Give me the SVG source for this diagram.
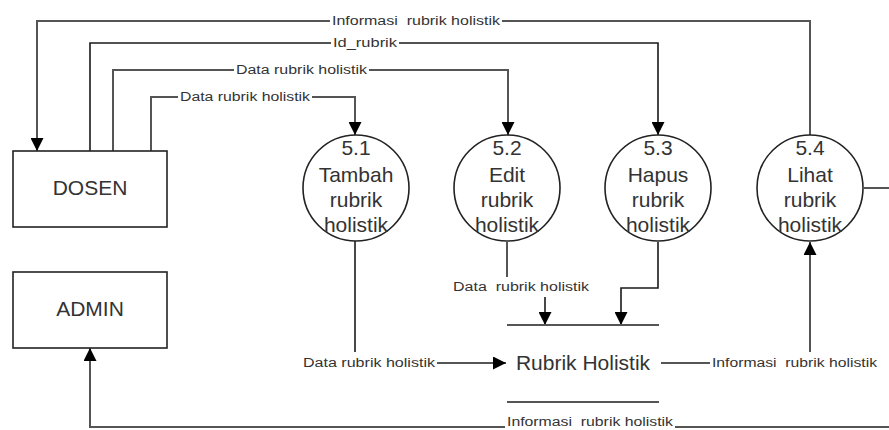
<svg xmlns="http://www.w3.org/2000/svg" width="889" height="430" viewBox="0 0 889 430">
  <style>
    .ent { fill: #fff; stroke: #222; stroke-width: 1.6; }
    .proc { fill: #fff; stroke: #222; stroke-width: 1.6; }
    .big { font-family: "Liberation Sans", Arial, sans-serif; font-size: 21px; fill: #333; text-anchor: middle; }
    .lbl { font-family: "Liberation Sans", Arial, sans-serif; font-size: 12.5px; fill: #333; }
    .flow { fill: none; stroke: #555; stroke-width: 2; }
    .flowd { fill: none; stroke: #1a1a1a; stroke-width: 1.6; }
    .store { stroke: #555; stroke-width: 2.2; }
  </style>
  <defs>
    <marker id="arrow" viewBox="0 0 10 10" refX="10" refY="5" markerUnits="userSpaceOnUse" markerWidth="13" markerHeight="13" orient="auto">
      <path d="M0,0 L10,5 L0,10 z" fill="#000"/>
    </marker>
  </defs>

  <rect width="889" height="430" fill="#fff"/>

  <!-- data flows -->
  <g id="connectors">
    <!-- 5.4 -> DOSEN -->
    <path class="flow" d="M810,135 V21 H502"/>
    <path class="flow" d="M330,21 H37 V151" marker-end="url(#arrow)"/>
    <text class="lbl" x="332" y="25" textLength="168" lengthAdjust="spacingAndGlyphs" xml:space="preserve">Informasi  rubrik holistik</text>

    <!-- DOSEN -> 5.3 -->
    <path class="flowd" d="M90,151 V43 H331"/>
    <path class="flowd" d="M399,43 H658 V135" marker-end="url(#arrow)"/>
    <text class="lbl" x="333" y="47" textLength="64" lengthAdjust="spacingAndGlyphs">Id_rubrik</text>

    <!-- DOSEN -> 5.2 -->
    <path class="flow" d="M113,151 V70 H234"/>
    <path class="flow" d="M369,70 H508 V135" marker-end="url(#arrow)"/>
    <text class="lbl" x="236" y="74" textLength="131" lengthAdjust="spacingAndGlyphs">Data rubrik holistik</text>

    <!-- DOSEN -> 5.1 -->
    <path class="flow" d="M151,151 V97 H178"/>
    <path class="flow" d="M312,97 H355 V135" marker-end="url(#arrow)"/>
    <text class="lbl" x="180" y="101" textLength="130" lengthAdjust="spacingAndGlyphs">Data rubrik holistik</text>

    <!-- 5.1 -> Rubrik Holistik -->
    <path class="flowd" d="M355,241 V352"/>
    <text class="lbl" x="303" y="367" textLength="132" lengthAdjust="spacingAndGlyphs">Data rubrik holistik</text>
    <path class="flow" d="M437,363 H506" marker-end="url(#arrow)"/>

    <!-- 5.2 -> Rubrik Holistik -->
    <path class="flow" d="M507,242 V277"/>
    <text class="lbl" x="453" y="291" textLength="136" lengthAdjust="spacingAndGlyphs" xml:space="preserve">Data  rubrik holistik</text>
    <path class="flowd" d="M545,297 V325" marker-end="url(#arrow)"/>

    <!-- 5.3 -> Rubrik Holistik -->
    <path class="flowd" d="M658,242 V288 H621 V325" marker-end="url(#arrow)"/>

    <!-- Rubrik Holistik -> 5.4 -->
    <path class="flow" d="M661,363 H710"/>
    <text class="lbl" x="712" y="367" textLength="165" lengthAdjust="spacingAndGlyphs" xml:space="preserve">Informasi  rubrik holistik</text>
    <path class="flow" d="M810,352 V242" marker-end="url(#arrow)"/>

    <!-- 5.4 -> ADMIN -->
    <path class="flow" d="M864,188 H895 V427 H675"/>
    <path class="flow" d="M505,427 H90 V348" marker-end="url(#arrow)"/>
    <text class="lbl" x="507" y="426" textLength="166" lengthAdjust="spacingAndGlyphs" xml:space="preserve">Informasi  rubrik holistik</text>
  </g>

  <!-- external entities -->
  <g id="dosen">
    <rect class="ent" x="13" y="151" width="154" height="76"/>
    <text class="big" x="90" y="195">DOSEN</text>
  </g>
  <g id="admin">
    <rect class="ent" x="13" y="272" width="154" height="76"/>
    <text class="big" x="90" y="316">ADMIN</text>
  </g>

  <!-- processes -->
  <g id="p51">
    <circle class="proc" cx="356" cy="188" r="53"/>
    <text class="big" x="356" y="155">5.1</text>
    <text class="big" x="356" y="182">Tambah</text>
    <text class="big" x="356" y="207">rubrik</text>
    <text class="big" x="356" y="232">holistik</text>
  </g>
  <g id="p52">
    <circle class="proc" cx="507" cy="188" r="53"/>
    <text class="big" x="507" y="155">5.2</text>
    <text class="big" x="507" y="182">Edit</text>
    <text class="big" x="507" y="207">rubrik</text>
    <text class="big" x="507" y="232">holistik</text>
  </g>
  <g id="p53">
    <circle class="proc" cx="658" cy="188" r="53"/>
    <text class="big" x="658" y="155">5.3</text>
    <text class="big" x="658" y="182">Hapus</text>
    <text class="big" x="658" y="207">rubrik</text>
    <text class="big" x="658" y="232">holistik</text>
  </g>
  <g id="p54">
    <circle class="proc" cx="810" cy="188" r="53"/>
    <text class="big" x="810" y="155">5.4</text>
    <text class="big" x="810" y="182">Lihat</text>
    <text class="big" x="810" y="207">rubrik</text>
    <text class="big" x="810" y="232">holistik</text>
  </g>

  <!-- data store -->
  <g id="store-rubrik">
    <line class="store" x1="507" y1="325" x2="659" y2="325"/>
    <line class="store" x1="507" y1="402" x2="659" y2="402"/>
    <text class="big" x="583" y="370">Rubrik Holistik</text>
  </g>
</svg>
